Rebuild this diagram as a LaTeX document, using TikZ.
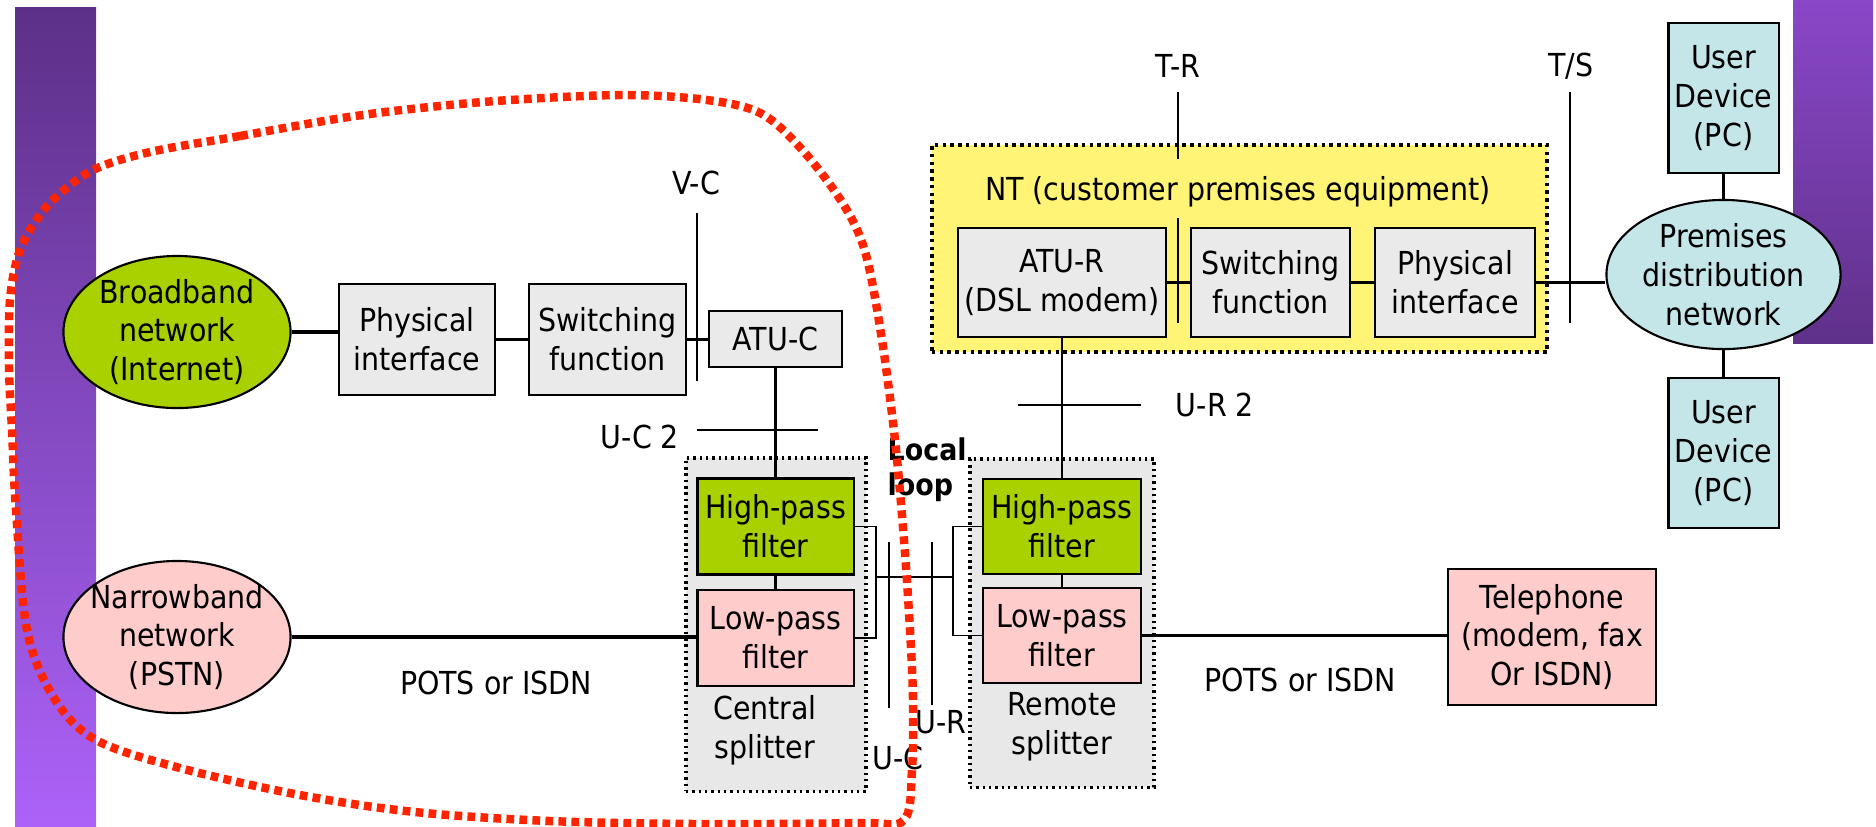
\documentclass[tikz,border=0pt]{standalone}
\usepackage{fontspec}
\setmainfont{DejaVu Sans Condensed}
\usetikzlibrary{shapes.geometric}

\definecolor{bbgreen}{RGB}{169,209,0}
\definecolor{nbpink}{RGB}{255,204,204}
\definecolor{boxgray}{RGB}{234,234,234}
\definecolor{splitgray}{RGB}{232,232,232}
\definecolor{premcyan}{RGB}{196,230,232}
\definecolor{ntyellow}{RGB}{255,244,118}
\definecolor{loopred}{RGB}{255,36,0}
\definecolor{barA}{RGB}{92,48,136}
\definecolor{barB}{RGB}{172,98,248}
\definecolor{barC}{RGB}{138,71,200}
\definecolor{barD}{RGB}{95,49,138}

\begin{document}
\begin{tikzpicture}[x=0.01cm, y=-0.01cm, every node/.style={font=\fontsize{9}{11}\selectfont}]
    \tikzstyle{box} = [rectangle, draw, fill=boxgray, line width=0.6pt, align=center, inner sep=0pt]
    \tikzstyle{net} = [ellipse, draw, line width=0.6pt, align=center, inner xsep=-3pt, inner ysep=-1pt, minimum width=2.27cm, minimum height=1.52cm]
    \tikzstyle{filterbox} = [box, minimum width=1.56cm, minimum height=0.96cm]
    \tikzstyle{userbox} = [box, fill=premcyan, minimum width=1.10cm, minimum height=1.50cm]
    \tikzstyle{splitbox} = [rectangle, draw, fill=splitgray, line width=0.9pt, dash pattern=on 0.7pt off 1.1pt]
    \tikzstyle{refname} = [inner sep=0pt, align=center]
    \tikzstyle{wire} = [line width=1pt]
    \tikzstyle{link} = [line width=0.6pt]
    \tikzstyle{refline} = [line width=0.4pt]
    \tikzstyle{loopline} = [loopred, line width=2.4pt, dash pattern=on 2.2pt off 1.5pt]

    \useasboundingbox (0,0) rectangle (1876,826);
    % purple side bars
    \shade [top color=barA, bottom color=barB] (15,7) rectangle (96,826);
    \shade [top color=barC, bottom color=barD] (1793,0) rectangle (1873,343);

    % customer premises (yellow) and the two splitters
    \node (nt) [rectangle, draw, fill=ntyellow, line width=1.1pt, dash pattern=on 1pt off 1.2pt, minimum width=6.15cm, minimum height=2.07cm] at (1239.5,248.5) {};
    \node (nttext) [refname] at (1238,192) {NT (customer premises equipment)};
    \node (csplit) [splitbox, minimum width=1.80cm, minimum height=3.33cm] at (776,624.5) {};
    \node (rsplit) [splitbox, minimum width=1.84cm, minimum height=3.28cm] at (1062,623) {};
    \node (ctext) [refname] at (765,730) {Central\\splitter};
    \node (rtext) [refname] at (1062,727) {Remote\\splitter};

    % central office side
    \node (bbnet) [net, fill=bbgreen] at (177,332) {Broadband\\network\\(Internet)};
    \node (phyC) [box, minimum width=1.56cm, minimum height=1.11cm] at (417,339.5) {Physical\\interface};
    \node (swC) [box, minimum width=1.57cm, minimum height=1.11cm] at (607.5,339.5) {Switching\\function};
    \node (atuC) [box, minimum width=1.33cm, minimum height=0.56cm] at (775.5,339) {ATU-C};
    \node (nbnet) [net, fill=nbpink] at (177,637) {Narrowband\\network\\(PSTN)};
    \node (hpC) [filterbox, fill=bbgreen] at (775.5,526.5) {High-pass\\filter};
    \node (lpC) [filterbox, fill=nbpink] at (775.5,638) {Low-pass\\filter};

    % remote side
    \node (atuR) [box, minimum width=2.08cm, minimum height=1.09cm] at (1062,282.5) {ATU-R\\(DSL modem)};
    \node (swR) [box, minimum width=1.59cm, minimum height=1.09cm] at (1270.5,282.5) {Switching\\function};
    \node (phyR) [box, minimum width=1.60cm, minimum height=1.09cm] at (1455,282.5) {Physical\\interface};
    \node (premnet) [net, fill=premcyan, minimum width=2.34cm, minimum height=1.49cm] at (1723.5,274.5) {Premises\\distribution\\network};
    \node (userA) [userbox] at (1723.5,98) {User\\Device\\(PC)};
    \node (userB) [userbox] at (1723.5,453) {User\\Device\\(PC)};
    \node (hpR) [filterbox, fill=bbgreen, minimum width=1.58cm, minimum height=0.95cm] at (1062,526.5) {High-pass\\filter};
    \node (lpR) [filterbox, fill=nbpink, minimum width=1.58cm, minimum height=0.95cm] at (1062,635.5) {Low-pass\\filter};
    \node (phone) [box, fill=nbpink, minimum width=2.08cm, minimum height=1.36cm] at (1552,637) {Telephone\\(modem, fax\\Or ISDN)};

    % reference point names
    \node (vc) [refname] at (696,183) {V-C};
    \node (tr) [refname] at (1178,66) {T-R};
    \node (ts) [refname] at (1571,66) {T/S};
    \node (uc2) [refname] at (640,437) {U-C 2};
    \node (ur2) [refname] at (1215,405) {U-R 2};
    \node (uc) [refname] at (898,758) {U-C};
    \node (ur) [refname] at (941,722) {U-R};
    \node (potsL) [refname] at (496,683) {POTS or ISDN};
    \node (potsR) [refname] at (1300,680) {POTS or ISDN};
    \node (loop) [refname, align=left, anchor=west, font=\fontsize{8.5}{10}\selectfont\bfseries] at (887,470) {Local\\loop};

    % connections
    \draw [wire] (bbnet.east) -- (bbnet.east -| phyC.west);
    \draw [wire] (phyC) -- (swC);
    \draw [wire] (swC.east) -- (swC.east -| atuC.west);
    \draw [link] (atuC) -- (hpC);
    \draw [link] (hpC) -- (lpC);
    \draw [wire] (nbnet.east) -- (nbnet.east -| lpC.west);
    \draw [wire] (atuR) -- (swR);
    \draw [wire] (swR) -- (phyR);
    \draw [wire] (phyR.east) -- (phyR.east -| premnet.west);
    \draw [link] (userA) -- (premnet);
    \draw [link] (premnet) -- (userB);
    \draw [link] (atuR) -- (hpR);
    \draw [link] (hpR) -- (lpR);
    \draw [wire] (lpR.east) -- (lpR.east -| phone.west);

    % local loop pair
    \coordinate (cbr) at (876,577);
    \coordinate (rbr) at (953,577);
    \draw [refline] (hpC.east) -- (hpC.east -| cbr) -- (lpC.east -| cbr) -- (lpC.east);
    \draw [refline] (hpR.west) -- (hpR.west -| rbr) -- (lpR.west -| rbr) -- (lpR.west);
    \draw [refline] (cbr) -- (rbr);

    % reference point lines
    \coordinate (vcA) at (697,213);   \coordinate (vcB) at (697,381);
    \coordinate (trA) at (1178,92);   \coordinate (trB) at (1178,159);
    \coordinate (trC) at (1178,218);  \coordinate (trD) at (1178,323);
    \coordinate (tsA) at (1570,92);   \coordinate (tsB) at (1570,323);
    \coordinate (uc2A) at (697,430);  \coordinate (uc2B) at (818,430);
    \coordinate (ur2A) at (1018,405); \coordinate (ur2B) at (1141,405);
    \coordinate (ucA) at (889,542);   \coordinate (ucB) at (889,708);
    \coordinate (urA) at (932,542);   \coordinate (urB) at (932,705);
    \draw [refline] (vcA) -- (vcB);
    \draw [refline] (trA) -- (trB);
    \draw [refline] (trC) -- (trD);
    \draw [refline] (tsA) -- (tsB);
    \draw [refline] (uc2A) -- (uc2B);
    \draw [refline] (ur2A) -- (ur2B);
    \draw [refline] (ucA) -- (ucB);
    \draw [refline] (urA) -- (urB);

    % red dotted outline round the central office part
    \begin{scope}
        \clip (0,0) rectangle (1876,826);
        \draw [loopline] plot [smooth cycle, tension=0.55] coordinates {(342,118) (240,136) (150,152) (93,170) (55,198) (33,225) (18,256) (10,300) (9,367) (12,430) (16,510) (27,630) (54,698) (96,740) (180,768) (300,795) (415,812) (550,821) (700,824) (860,823) (904,820) (912,770) (913,700) (910,630) (904,540) (895,440) (882,340) (866,255) (845,207) (805,153) (762,114) (707,100) (623,95) (510,100) (420,108)};
    \end{scope}
\end{tikzpicture}
\end{document}
